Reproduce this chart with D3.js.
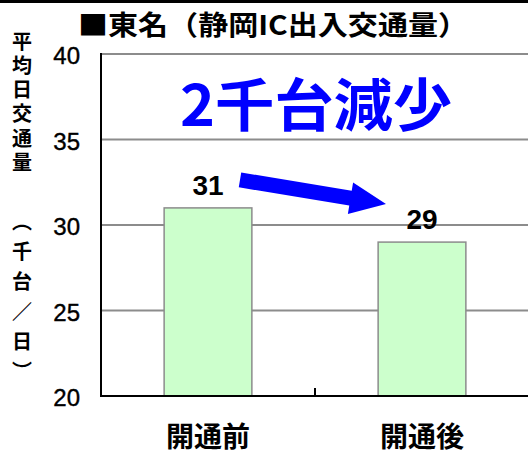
<!DOCTYPE html>
<html>
  <head>
    <meta charset="UTF-8">
    <title>東名（静岡IC出入交通量）</title>
    <script src="https://d3js.org/d3.v7.min.js"></script>
    <style>
      body { margin: 0; background: #fff; }
      text { font-family: "Noto Sans CJK JP", sans-serif; }
      .num { font-family: "Liberation Sans", Arial, sans-serif; }
      .vert { writing-mode: vertical-rl; }
      .novert { font-feature-settings: "vert" 0, "vrt2" 0; }
    </style>
  </head>
  <body>
    <svg width="528" height="456"></svg>
    <script>
      const categories = ["開通前", "開通後"];
      const values = [31, 29];
      const yTicks = [20, 25, 30, 35, 40];
      const title = "■東名（静岡IC出入交通量）";
      const note = "2千台減少";
      const yLabelMain = "平均日交通量";
      const yLabelUnit = ["（千台", "／", "日）"];

      const width = 528;
      const height = 456;
      const plotL = 101, plotR = 529, plotT = 54, plotB = 396;

      const svg = d3.select("svg");

      const x = d3.scaleBand()
        .domain(categories)
        .range([plotL, plotR]);

      const y = d3.scaleLinear()
        .domain([20, 40])
        .range([plotB, plotT]);

      // top rule
      svg.append("rect")
        .attr("x", 0).attr("y", 0)
        .attr("width", width).attr("height", 3)
        .attr("fill", "#000");

      // gridlines
      svg.append("g")
        .selectAll("line")
        .data(yTicks.filter(d => d > 20))
        .join("line")
        .attr("x1", plotL).attr("x2", width)
        .attr("y1", d => y(d)).attr("y2", d => y(d))
        .attr("stroke", "#8c8c8c")
        .attr("stroke-width", 2);

      // bars
      const barW = x.bandwidth() * 0.41;
      svg.append("g")
        .selectAll("rect")
        .data(values)
        .join("rect")
        .attr("x", (d, i) => x(categories[i]) + x.bandwidth() / 2 - barW / 2)
        .attr("y", d => y(d))
        .attr("width", barW)
        .attr("height", d => y(20) - y(d))
        .attr("fill", "#ccffcc")
        .attr("stroke", "#8c8c8c")
        .attr("stroke-width", 1.5);

      // axes
      svg.append("line")
        .attr("x1", plotL).attr("x2", plotL)
        .attr("y1", plotT - 1).attr("y2", plotB + 1)
        .attr("stroke", "#000").attr("stroke-width", 2);
      svg.append("line")
        .attr("x1", plotL - 1).attr("x2", width)
        .attr("y1", plotB).attr("y2", plotB)
        .attr("stroke", "#000").attr("stroke-width", 2);
      svg.append("line")
        .attr("x1", x(categories[1])).attr("x2", x(categories[1]))
        .attr("y1", plotB - 8).attr("y2", plotB)
        .attr("stroke", "#000").attr("stroke-width", 2);

      // y tick labels
      svg.append("g")
        .selectAll("text")
        .data(yTicks)
        .join("text")
        .attr("class", "num")
        .attr("x", 80)
        .attr("y", d => y(d) + 10)
        .attr("text-anchor", "end")
        .attr("font-size", 24)
        .attr("fill", "#000")
        .attr("stroke", "#000")
        .attr("stroke-width", 0.4)
        .text(d => d);

      // category labels
      svg.append("g")
        .selectAll("text")
        .data(categories)
        .join("text")
        .attr("x", d => x(d) + x.bandwidth() / 2)
        .attr("y", 447)
        .attr("text-anchor", "middle")
        .attr("font-size", 28)
        .attr("font-weight", "bold")
        .text(d => d);

      // value labels
      svg.append("g")
        .selectAll("text")
        .data(values)
        .join("text")
        .attr("class", "num")
        .attr("x", (d, i) => x(categories[i]) + x.bandwidth() / 2)
        .attr("y", d => y(d) - 13)
        .attr("text-anchor", "middle")
        .attr("font-size", 28)
        .attr("font-weight", "bold")
        .text(d => d);

      // title
      svg.append("text")
        .attr("x", 78)
        .attr("y", 35)
        .attr("font-size", 27)
        .attr("font-weight", "bold")
        .attr("textLength", 390)
        .attr("lengthAdjust", "spacingAndGlyphs")
        .text(title);

      // y axis label, vertical
      svg.append("text")
        .attr("class", "vert")
        .attr("x", 22)
        .attr("y", 31)
        .attr("font-size", 20)
        .attr("font-weight", "bold")
        .attr("letter-spacing", 4.3)
        .text(yLabelMain);
      svg.append("text")
        .attr("class", "vert")
        .attr("x", 22)
        .attr("y", 211)
        .attr("font-size", 20)
        .attr("font-weight", "bold")
        .attr("letter-spacing", 10)
        .selectAll("tspan")
        .data(yLabelUnit)
        .join("tspan")
        .attr("class", (d, i) => i === 1 ? "novert" : null)
        .text(d => d);

      // annotation
      svg.append("text")
        .attr("x", 180)
        .attr("y", 126)
        .attr("font-size", 57)
        .attr("font-weight", "bold")
        .attr("fill", "#0000ff")
        .attr("textLength", 272)
        .attr("lengthAdjust", "spacingAndGlyphs")
        .text(note);

      // arrow between labels
      const x0 = x(categories[0]) + x.bandwidth() / 2 + 32, y0 = y(values[0]) - 28;
      const x1 = x(categories[1]) + x.bandwidth() / 2 - 36, y1 = y(values[1]) - 38;
      const ang = Math.atan2(y1 - y0, x1 - x0);
      const len = Math.hypot(x1 - x0, y1 - y0);
      const sw = 7.5, hw = 16, hl = 36;
      svg.append("path")
        .attr("d", d3.line()([
          [0, -sw], [len - hl, -sw], [len - hl, -hw], [len, 0],
          [len - hl, hw], [len - hl, sw], [0, sw]
        ]) + "Z")
        .attr("transform", `translate(${x0},${y0}) rotate(${ang * 180 / Math.PI})`)
        .attr("fill", "#0000ff");
    </script>
  </body>
</html>
